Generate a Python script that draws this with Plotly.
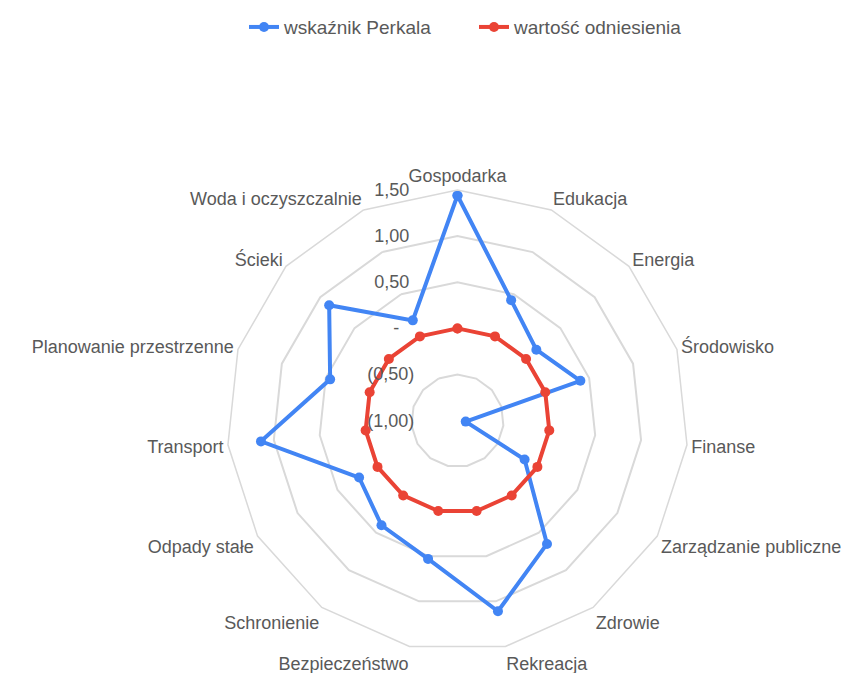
import plotly.graph_objects as go

# kategorie (zgodnie z ruchem wskazówek zegara od góry)
categories = [
    "Gospodarka", "Edukacja", "Energia", "Środowisko", "Finanse",
    "Zarządzanie publiczne", "Zdrowie", "Rekreacja", "Bezpieczeństwo",
    "Schronienie", "Odpady stałe", "Transport", "Planowanie przestrzenne",
    "Ścieki", "Woda i oczyszczalnie",
]
perkal = [1.44, 0.43, 0.15, 0.40, -0.91, -0.16, 0.65, 1.11, 0.53,
          0.40, 0.23, 1.14, 0.45, 0.87, 0.19]
reference = [0.0] * len(categories)

axis_min, axis_max = -1.0, 1.5
tick_vals = [-1.0, -0.5, 0.0, 0.5, 1.0, 1.5]
tick_text = ["(1,00)", "(0,50)", "-", "0,50", "1,00", "1,50"]

BLUE = "#4285F4"
RED = "#EA4335"
TEXT = "#595959"
NBSP = "\u00a0"


# plotly hides markers inside the "hole" when the radial range starts below 0
# with a linear gridshape, so the radial axis is offset to start at 0
def to_r(vals):
    return [v - axis_min for v in vals]


# accounting-style padding on the right of the tick labels
tick_labels = []
for t in tick_text:
    n = 3 if t == "-" else (0 if t.startswith("(") else 1)
    tick_labels.append(t + NBSP * (n + 8))

fig = go.Figure()

# close the polygons by repeating first point
for name, vals, color in [("wskaźnik Perkala", perkal, BLUE),
                          ("wartość odniesienia", reference, RED)]:
    fig.add_trace(go.Scatterpolar(
        r=to_r(vals + vals[:1]),
        theta=categories + categories[:1],
        name=name,
        mode="lines+markers",
        line=dict(color=color, width=4),
        marker=dict(color=color, size=10),
    ))

fig.update_layout(
    width=864, height=673,
    margin=dict(l=0, r=0, t=0, b=0),
    paper_bgcolor="white",
    font=dict(family="Liberation Sans, Arial, sans-serif", size=18, color=TEXT),
    legend=dict(orientation="h", x=236 / 864, xanchor="left", y=1.018, yanchor="top",
                entrywidth=185, font=dict(size=19, color=TEXT)),
    polar=dict(
        domain=dict(x=[0.2482, 0.7922], y=[0.0446, 0.7429]),
        bgcolor="white",
        gridshape="linear",
        radialaxis=dict(
            range=[0, axis_max - axis_min],
            tickvals=to_r(tick_vals),
            ticktext=tick_labels,
            angle=90,
            tickangle=90,
            side="counterclockwise",
            showline=False,
            ticks="",
            gridcolor="#d9d9d9",
            gridwidth=1.5,
            tickfont=dict(size=18, color=TEXT),
        ),
        angularaxis=dict(
            direction="clockwise",
            rotation=90,
            showgrid=False,
            showline=True,
            linecolor="#d9d9d9",
            linewidth=1.5,
            ticks="",
            tickfont=dict(size=18, color=TEXT),
        ),
    ),
)

fig.write_html("out.html")
